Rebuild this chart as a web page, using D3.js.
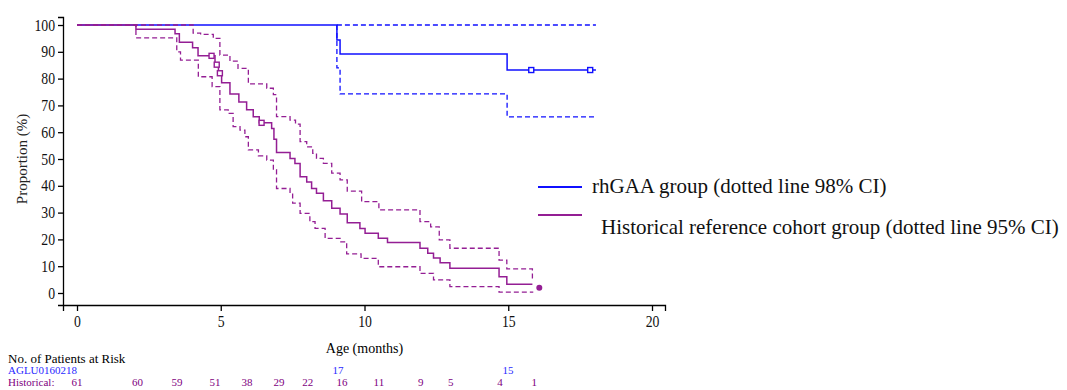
<!DOCTYPE html>
<html>
<head>
<meta charset="utf-8">
<script src="https://cdn.jsdelivr.net/npm/d3@7"></script>
<style>
  body { margin: 0; background: #fff; }
  text { font-family: "Liberation Serif", "Times New Roman", serif; }
</style>
</head>
<body>
<script>
var width = 1067, height = 390;

// rhGAA group (AGLU0160218): [age in months, proportion %]
var rhgaaSurv  = [[0, 100], [9.04, 94.4], [9.15, 89.2], [14.96, 83.2], [18.05, 83.2]];
var rhgaaUpper = [[9.04, 100], [18.05, 100]];
var rhgaaLower = [[9.04, 100], [9.04, 84.0], [9.15, 74.3], [14.96, 65.7], [18.05, 65.7]];
var rhgaaCensor = [[15.8, 83.2], [17.85, 83.2]];

// historical reference cohort
var histSurv = [[0, 100], [2.05, 98.4], [3.41, 96.7], [3.56, 93.6], [4.02, 91.5], [4.21, 88.5],
  [4.8, 85.2], [4.92, 82.0], [5.03, 78.5], [5.32, 74.3], [5.63, 71.3], [5.9, 68.4], [6.13, 65.8],
  [6.34, 63.5], [6.77, 61.4], [6.85, 57.4], [6.94, 52.4], [7.41, 50.2], [7.58, 48.3], [7.76, 43.4],
  [7.99, 41.4], [8.16, 39.0], [8.33, 37.2], [8.57, 34.4], [8.86, 31.6], [9.15, 29.5], [9.4, 26.2],
  [9.84, 24.1], [10.02, 22.3], [10.48, 20.4], [10.8, 18.8], [11.93, 16.7], [12.2, 14.8],
  [12.4, 13.1], [12.63, 11.3], [12.97, 9.2], [14.68, 6.1], [14.95, 3.3], [15.84, 3.3]];
var histUpper = [[0, 100], [4.04, 97.0], [4.3, 96.5], [4.74, 95.0], [4.97, 88.8], [5.32, 86.5],
  [5.6, 83.8], [5.96, 78.0], [6.6, 76.4], [6.83, 74.0], [6.94, 65.8], [7.41, 64.5], [7.6, 63.0],
  [7.76, 56.5], [7.99, 54.5], [8.2, 52.1], [8.33, 50.2], [8.57, 48.4], [8.86, 44.7], [9.15, 42.2],
  [9.4, 38.0], [9.9, 34.1], [10.5, 31.0], [11.93, 26.6], [12.3, 24.7], [12.6, 19.8], [12.97, 16.7],
  [14.68, 12.3], [14.95, 9.0], [15.84, 9.0], [15.84, 4.9]];
var histLower = [[0, 100], [2.05, 95.2], [3.47, 90.0], [3.6, 86.9], [4.22, 80.7], [4.7, 77.0],
  [4.97, 68.3], [5.26, 67.0], [5.43, 62.1], [5.67, 60.8], [5.84, 58.3], [5.96, 53.4], [6.31, 51.2],
  [6.6, 49.6], [6.83, 46.0], [6.94, 39.0], [7.41, 37.2], [7.5, 33.5], [7.76, 29.7], [8.1, 26.6],
  [8.28, 24.1], [8.63, 20.4], [9.15, 19.1], [9.38, 14.6], [9.88, 12.9], [10.48, 9.8], [11.93, 7.3],
  [12.4, 4.9], [12.97, 2.4], [14.68, 0.3], [15.87, 0.3]];
var histCensor = [[4.68, 88.5], [4.86, 85.2], [4.97, 82.0], [6.42, 63.5]];
var histEndDot = [[16.08, 2.0]];

var xTicks = [0, 5, 10, 15, 20];
var yTicks = [0, 10, 20, 30, 40, 50, 60, 70, 80, 90, 100];

// patients at risk: [age, count]
var riskRhgaa = [[9.08, 17], [14.99, 15]];
var riskHist = [[0, 61], [2.1, 60], [3.48, 59], [4.8, 51], [5.91, 38], [7.03, 29], [8.03, 22],
  [9.22, 16], [10.5, 11], [11.96, 9], [13.0, 5], [14.71, 4], [15.9, 1]];

var blue = "#1010ff", purple = "#941e94";

var svg = d3.select("body").append("svg")
    .attr("width", width)
    .attr("height", height);

var x = d3.scaleLinear().domain([-0.487, 20.452]).range([63, 665]);
var y = d3.scaleLinear().domain([-4.48, 102.99]).range([305, 17]);

// axes
var xAxis = svg.append("g")
    .attr("transform", "translate(0,305)")
    .call(d3.axisBottom(x).tickValues(xTicks).tickSizeOuter(0).tickSize(6).tickPadding(5));
var yAxis = svg.append("g")
    .attr("transform", "translate(63,0)")
    .call(d3.axisLeft(y).tickValues(yTicks).tickSizeOuter(0).tickSize(5).tickPadding(3));

[xAxis, yAxis].forEach(function(a, i){
    a.selectAll("path, line").attr("stroke", "#000").attr("stroke-width", 1.3);
    a.selectAll("text")
        .style("font-size", "16px")
        .style("font-family", "'Liberation Serif', serif")
        .style("transform-box", "fill-box")
        .style("transform-origin", i === 0 ? "center" : "right center")
        .style("transform", "scaleX(0.86)")
        .attr("fill", "#111");
});

svg.append("text")
    .attr("x", x(10)).attr("y", 353)
    .attr("text-anchor", "middle")
    .style("font-size", "14px")
    .text("Age (months)");

svg.append("text")
    .attr("transform", "translate(27," + y(50) + ") rotate(-90)")
    .attr("text-anchor", "middle")
    .style("font-size", "15px")
    .attr("fill", "#222")
    .text("Proportion (%)");

var line = d3.line()
    .x(function(d){ return x(d[0]); })
    .y(function(d){ return y(d[1]); })
    .curve(d3.curveStepAfter);

function drawCurve(data, color, dashed, w) {
    svg.append("path")
        .datum(data)
        .attr("d", line)
        .attr("fill", "none")
        .attr("stroke", color)
        .attr("stroke-width", w)
        .attr("stroke-dasharray", dashed ? "5,3" : null);
}

drawCurve(rhgaaUpper, blue, true, 1.3);
drawCurve(rhgaaLower, blue, true, 1.3);
drawCurve(rhgaaSurv, blue, false, 1.5);
drawCurve(histUpper, purple, true, 1.3);
drawCurve(histLower, purple, true, 1.3);
drawCurve(histSurv, purple, false, 1.5);

function drawCensor(data, color) {
    svg.selectAll(null)
        .data(data)
        .enter().append("rect")
        .attr("x", function(d){ return x(d[0]) - 2.5; })
        .attr("y", function(d){ return y(d[1]) - 2.5; })
        .attr("width", 5).attr("height", 5)
        .attr("fill", "#fff")
        .attr("stroke", color)
        .attr("stroke-width", 1.4);
}
drawCensor(rhgaaCensor, blue);
drawCensor(histCensor, purple);

svg.selectAll(null)
    .data(histEndDot)
    .enter().append("circle")
    .attr("cx", function(d){ return x(d[0]); })
    .attr("cy", function(d){ return y(d[1]); })
    .attr("r", 3)
    .attr("fill", purple);

// legend
var legend = [
    {label: "rhGAA group (dotted line 98% CI)", color: blue, ly: 187, tx: 592, ty: 193},
    {label: "Historical reference cohort group (dotted line 95% CI)", color: purple, ly: 215, tx: 601, ty: 234}
];
legend.forEach(function(d){
    svg.append("line")
        .attr("x1", 538).attr("x2", 582)
        .attr("y1", d.ly).attr("y2", d.ly)
        .attr("stroke", d.color).attr("stroke-width", 1.8);
    svg.append("text")
        .attr("x", d.tx).attr("y", d.ty)
        .style("font-size", "21px")
        .attr("fill", "#111")
        .text(d.label);
});

// patients at risk table
svg.append("text")
    .attr("x", 8).attr("y", 363)
    .style("font-size", "13px")
    .text("No. of Patients at Risk");
svg.append("text")
    .attr("x", 8).attr("y", 374)
    .style("font-size", "11px")
    .attr("fill", "#2a2aff")
    .text("AGLU0160218");
svg.append("text")
    .attr("x", 8).attr("y", 386)
    .style("font-size", "11px")
    .attr("fill", "#800080")
    .text("Historical:");

svg.selectAll(null)
    .data(riskRhgaa)
    .enter().append("text")
    .attr("x", function(d){ return x(d[0]); })
    .attr("y", 374)
    .attr("text-anchor", "middle")
    .style("font-size", "11px")
    .attr("fill", "#2a2aff")
    .text(function(d){ return d[1]; });

svg.selectAll(null)
    .data(riskHist)
    .enter().append("text")
    .attr("x", function(d){ return x(d[0]); })
    .attr("y", 386)
    .attr("text-anchor", "middle")
    .style("font-size", "11px")
    .attr("fill", "#800080")
    .text(function(d){ return d[1]; });
</script>
</body>
</html>
